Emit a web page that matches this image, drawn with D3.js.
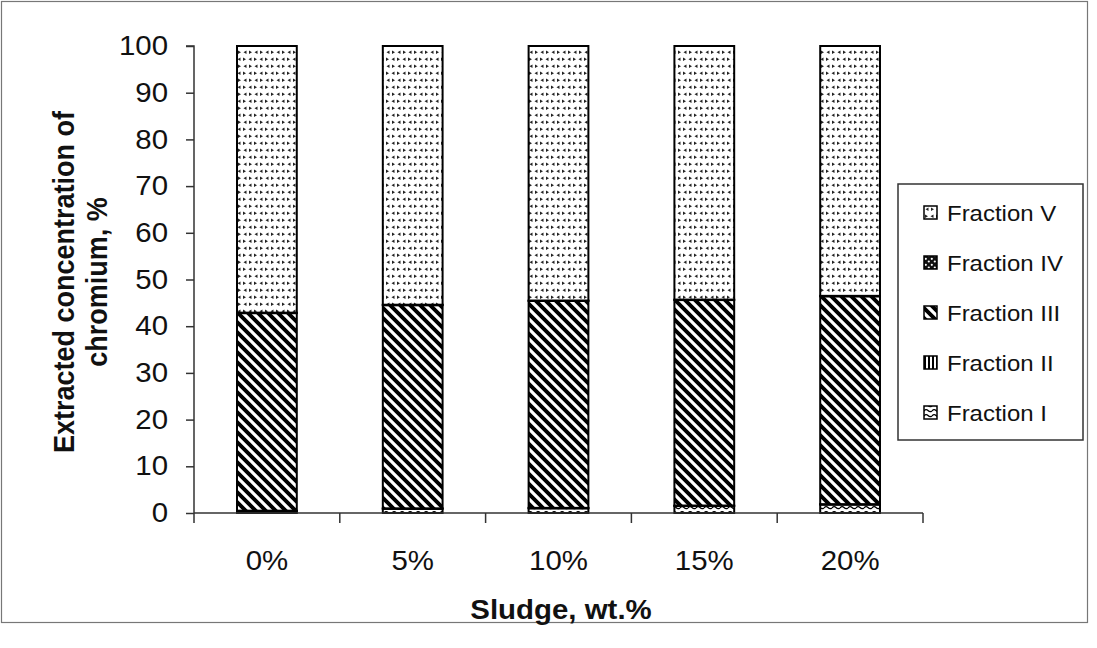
<!DOCTYPE html>
<html>
<head>
<meta charset="utf-8">
<script src="https://cdn.jsdelivr.net/npm/d3@7"></script>
<style>
  html, body { margin: 0; padding: 0; background: #fff; }
  svg { display: block; font-family: "Liberation Sans", Arial, sans-serif; }
</style>
</head>
<body>
<svg id="chart" width="1097" height="648"></svg>
<script>
// Sludge content categories
const categories = ["0%", "5%", "10%", "15%", "20%"];

// Extracted chromium by fraction, % of total
const fractionI   = [0.4, 0.9, 1.0, 1.5, 1.8];
const fractionII  = [0.1, 0.1, 0.1, 0.1, 0.1];
const fractionIII = [42.3, 43.5, 44.3, 44.0, 44.5];
const fractionIV  = [0.1, 0.1, 0.1, 0.1, 0.1];
const fractionV   = [57.1, 55.4, 54.5, 54.3, 53.5];

const seriesNames = ["Fraction I", "Fraction II", "Fraction III", "Fraction IV", "Fraction V"];
const yTicks = [0, 10, 20, 30, 40, 50, 60, 70, 80, 90, 100];

const W = 1097, H = 648;
const margin = { left: 194, right: 1097 - 923, top: 46, bottom: 648 - 513 };
const SX = 1.09;          // horizontal widening of lettering
const INK = "#111";

const svg = d3.select("#chart");

// ---- fill patterns ----
const defs = svg.append("defs");

// Fraction V: small scattered arrowheads
const pV = defs.append("pattern").attr("id", "patV").attr("patternUnits", "userSpaceOnUse")
  .attr("width", 11).attr("height", 14);
pV.append("rect").attr("width", 11).attr("height", 14).attr("fill", "#fff");
pV.append("path").attr("d", "M1,1.5 L4,3.2 L1,5 Z").attr("fill", "#222");
pV.append("path").attr("d", "M9.5,1.5 L6.5,3.2 L9.5,5 Z").attr("fill", "#222");
pV.append("path").attr("d", "M4.5,8.5 L1.5,10.2 L4.5,12 Z").attr("fill", "#222");
pV.append("path").attr("d", "M7,8.5 L10,10.2 L7,12 Z").attr("fill", "#222");

// Fraction IV: dark block with light holes
const pIV = defs.append("pattern").attr("id", "patIV").attr("patternUnits", "userSpaceOnUse")
  .attr("width", 6).attr("height", 6);
pIV.append("rect").attr("width", 6).attr("height", 6).attr("fill", "#111");
pIV.append("circle").attr("cx", 1.8).attr("cy", 1.8).attr("r", 1.1).attr("fill", "#fff");
pIV.append("circle").attr("cx", 4.8).attr("cy", 4.5).attr("r", 1.1).attr("fill", "#fff");

// Fraction III: wide downward diagonal stripes
const pIII = defs.append("pattern").attr("id", "patIII").attr("patternUnits", "userSpaceOnUse")
  .attr("width", 10).attr("height", 10);
pIII.append("rect").attr("width", 10).attr("height", 10).attr("fill", "#fff");
pIII.append("path").attr("d", "M-5,0 L10,15 M0,-5 L15,10 M-10,5 L5,20 M5,-10 L20,5")
  .attr("stroke", "#000").attr("stroke-width", 3.9);

// Fraction II: vertical lines
const pII = defs.append("pattern").attr("id", "patII").attr("patternUnits", "userSpaceOnUse")
  .attr("width", 4).attr("height", 4);
pII.append("rect").attr("width", 4).attr("height", 4).attr("fill", "#fff");
pII.append("rect").attr("x", 0).attr("width", 2).attr("height", 4).attr("fill", "#000");

// Fraction I: waves
const pI = defs.append("pattern").attr("id", "patI").attr("patternUnits", "userSpaceOnUse")
  .attr("width", 8).attr("height", 5);
pI.append("rect").attr("width", 8).attr("height", 5).attr("fill", "#fff");
pI.append("path").attr("d", "M0,3 Q2,0.5 4,2.5 T8,3").attr("stroke", "#000").attr("stroke-width", 1.3).attr("fill", "none");

const fills = ["url(#patI)", "url(#patII)", "url(#patIII)", "url(#patIV)", "url(#patV)"];

// ---- outer frame ----
svg.append("rect").attr("x", 1.5).attr("y", 1.5).attr("width", 1086).attr("height", 621)
  .attr("fill", "#fff").attr("stroke", "#777").attr("stroke-width", 1.2);

// ---- scales ----
const x = d3.scaleBand().domain(categories)
  .range([margin.left, W - margin.right]).paddingInner(0.59).paddingOuter(0.295);
const y = d3.scaleLinear().domain([0, 100]).range([H - margin.bottom, margin.top]);

// ---- stacked data ----
const rows = categories.map((c, i) => ({
  cat: c,
  "Fraction I": fractionI[i],
  "Fraction II": fractionII[i],
  "Fraction III": fractionIII[i],
  "Fraction IV": fractionIV[i],
  "Fraction V": fractionV[i]
}));
const stacked = d3.stack().keys(seriesNames)(rows);

const layers = svg.append("g").selectAll("g").data(stacked).join("g")
  .attr("fill", (d, i) => fills[i]);
layers.selectAll("rect").data(d => d).join("rect")
  .attr("x", d => x(d.data.cat))
  .attr("width", x.bandwidth())
  .attr("y", d => y(d[1]))
  .attr("height", d => y(d[0]) - y(d[1]))
  .attr("stroke", "#000").attr("stroke-width", 2);

// ---- axes ----
const yAxis = d3.axisLeft(y).tickValues(yTicks).tickSize(8).tickPadding(18);
const gy = svg.append("g").attr("transform", `translate(${margin.left},0)`).call(yAxis);
gy.select(".domain").attr("stroke", "#333").attr("stroke-width", 1.5)
  .attr("d", `M-8,${y(100)}H0V${y(0) + 10}`);
gy.selectAll(".tick line").attr("stroke", "#333").attr("stroke-width", 1.5);
gy.selectAll("text").attr("font-size", 27).attr("fill", INK)
  .attr("font-family", "Liberation Sans, Arial, sans-serif")
  .attr("x", -26 / SX).attr("transform", `scale(${SX},1)`);

const step = x.step();
const xAxis = d3.axisBottom(x).tickSize(0).tickPadding(0);
const gx = svg.append("g").attr("transform", `translate(0,${y(0)})`).call(xAxis);
gx.select(".domain").attr("stroke", "#333").attr("stroke-width", 1.5)
  .attr("d", `M${margin.left},0H${W - margin.right}`);
gx.selectAll(".tick text").attr("font-size", 27).attr("fill", INK)
  .attr("font-family", "Liberation Sans, Arial, sans-serif")
  .attr("y", 0).attr("dy", 0)
  .attr("transform", `translate(0,57) scale(${SX},1)`);
// tick marks between categories
const boundaries = d3.range(1, categories.length + 1).map(i => margin.left + i * step);
gx.selectAll(".bound").data(boundaries).join("line").attr("class", "bound")
  .attr("x1", d => d).attr("x2", d => d).attr("y1", 0).attr("y2", 10)
  .attr("stroke", "#333").attr("stroke-width", 1.5);

// ---- axis titles ----
svg.append("g").attr("transform", `translate(561,619) scale(${SX},1)`)
  .append("text").attr("text-anchor", "middle").attr("font-size", 27).attr("font-weight", "bold")
  .attr("fill", INK).text("Sludge, wt.%");

const yt = svg.append("g").attr("transform", `translate(74,282) scale(${SX},1) rotate(-90)`)
  .append("text").attr("text-anchor", "middle").attr("font-size", 27).attr("font-weight", "bold").attr("fill", INK);
yt.append("tspan").attr("x", 0).attr("dy", 0).text("Extracted concentration of");
yt.append("tspan").attr("x", 0).attr("dy", 30).text("chromium, %");

// ---- legend ----
const lg = svg.append("g").attr("transform", "translate(898,184)");
lg.append("rect").attr("width", 185).attr("height", 256)
  .attr("fill", "#fff").attr("stroke", "#333").attr("stroke-width", 1.5);
const legendOrder = seriesNames.slice().reverse();
const item = lg.selectAll("g.item").data(legendOrder).join("g").attr("class", "item")
  .attr("transform", (d, i) => `translate(26,${29 + i * 50})`);
item.append("rect").attr("x", 0).attr("y", -7).attr("width", 13).attr("height", 13)
  .attr("fill", d => fills[seriesNames.indexOf(d)]).attr("stroke", "#000").attr("stroke-width", 1.5);
item.append("text").attr("transform", `translate(23,0) scale(${SX},1)`).attr("dy", "0.36em")
  .attr("font-size", 22).attr("fill", INK).text(d => d);
</script>
</body>
</html>
